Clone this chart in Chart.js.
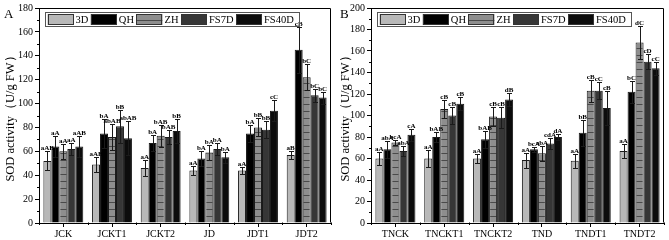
<!DOCTYPE html>
<html><head><meta charset="utf-8">
<script src="https://cdn.jsdelivr.net/npm/chart.js@4/dist/chart.umd.min.js"></script>
<style>
html,body{margin:0;padding:0;background:#fff;width:669px;height:240px;overflow:hidden}
canvas{position:absolute;top:0}
#cA{left:0}
#cB{left:335px}
</style></head>
<body>
<canvas id="cA" width="335" height="240"></canvas>
<canvas id="cB" width="334" height="240"></canvas>
<script>
// ---------- data ----------
const seriesNames = ['3D', 'QH', 'ZH', 'FS7D', 'FS40D'];

const categoriesA = ['JCK', 'JCKT1', 'JCKT2', 'JD', 'JDT1', 'JDT2'];
const a3D    = [52, 49, 46, 44, 44, 57];
const aQH    = [64, 75, 67, 54, 75, 145];
const aZH    = [60, 72, 73, 59, 80, 122];
const aFS7D  = [62, 81, 72, 62, 78, 107];
const aFS40D = [64, 71, 77, 55, 94, 105];
const a3DErr    = [8, 6, 7, 3.5, 3, 3];
const aQHErr    = [9, 12, 7, 6, 7, 19];
const aZHErr    = [6, 11, 9, 6.5, 7.5, 11];
const aFS7DErr  = [5, 14, 6, 5, 7, 5.5];
const aFS40DErr = [9, 14, 10, 4.5, 9, 5];
const a3DSig    = ['aAB', 'aAB', 'aA', 'aA', 'aA', 'aB'];
const aQHSig    = ['aA', 'bA', 'bA', 'bA', 'bA', 'cB'];
const aZHSig    = ['aA', 'abAB', 'bAB', 'bA', 'bB', 'bC'];
const aFS7DSig  = ['aA', 'bB', 'bAB', 'bA', 'bB', 'bC'];
const aFS40DSig = ['aAB', 'abAB', 'bB', 'bA', 'cC', 'bC'];

const categoriesB = ['TNCK', 'TNCKT1', 'TNCKT2', 'TND', 'TNDT1', 'TNDT2'];
const b3D    = [60, 60, 60, 58.5, 58, 67];
const bQH    = [68.5, 80, 78, 68.5, 84, 122];
const bZH    = [75, 106, 99, 65, 123, 168];
const bFS7D  = [67, 100, 98, 74, 123, 150];
const bFS40D = [82, 111, 115, 80, 107, 144];
const b3DErr    = [6, 8, 4, 7, 6.5, 6.5];
const bQHErr    = [8, 5, 8, 2.5, 12, 10];
const bZHErr    = [2.5, 8, 9, 7, 10, 15.5];
const bFS7DErr  = [5, 8, 10, 5, 8, 7];
const bFS40DErr = [5.5, 6, 6, 3, 16, 6];
const b3DSig    = ['aA', 'aA', 'aA', 'aA', 'aA', 'aA'];
const bQHSig    = ['abA', 'bAB', 'bAB', 'bcA', 'bB', 'bC'];
const bZHSig    = ['bcA', 'cB', 'cB', 'abA', 'cB', 'dC'];
const bFS7DSig  = ['abA', 'cB', 'cB', 'cdA', 'cC', 'cD'];
const bFS40DSig = ['cA', 'cB', 'dB', 'dA', 'cB', 'cC'];

const yMaxA = 180, yMaxB = 200, yStep = 20;
const yTitle = 'SOD activity（U/g FW）';

// ---------- styles ----------
const SERIF = '"Liberation Serif", "Times New Roman", serif';
function makeHatch() {
  const c = document.createElement('canvas');
  c.width = 8; c.height = 7;
  const g = c.getContext('2d');
  g.fillStyle = '#8e8e8e'; g.fillRect(0, 0, 8, 7);
  g.fillStyle = '#4a4a4a'; g.fillRect(0, 6, 8, 1);
  return g.createPattern(c, 'repeat');
}
const hatch = makeHatch();
const fills = ['#b8b8b8', '#000000', hatch, '#363636', '#0c0c0c'];

function extrasPlugin(letter, errs, sigs, letterX) {
  return {
    id: 'extras' + letter,
    afterDatasetsDraw(chart) {
      const ctx = chart.ctx, ca = chart.chartArea, ys = chart.scales.y;
      ctx.save();
      // error bars and significance letters
      chart.data.datasets.forEach((ds, di) => {
        const meta = chart.getDatasetMeta(di);
        meta.data.forEach((bar, i) => {
          const v = ds.data[i], e = errs[di][i];
          const xp = Math.round(bar.x) + 0.5;
          const yt = Math.round(ys.getPixelForValue(v + e)) + 0.5;
          const yb = Math.round(ys.getPixelForValue(v - e)) + 0.5;
          ctx.strokeStyle = '#1a1a1a'; ctx.lineWidth = 1;
          ctx.beginPath();
          ctx.moveTo(xp, yt); ctx.lineTo(xp, yb);
          ctx.moveTo(xp - 2.5, yt); ctx.lineTo(xp + 2.5, yt);
          ctx.moveTo(xp - 2.5, yb); ctx.lineTo(xp + 2.5, yb);
          ctx.stroke();
          ctx.fillStyle = '#000';
          ctx.font = 'bold 7px ' + SERIF;
          ctx.textAlign = 'center'; ctx.textBaseline = 'alphabetic';
          ctx.fillText(sigs[di][i], bar.x, yt - 1.5);
        });
      });
      // frame
      ctx.strokeStyle = '#000'; ctx.lineWidth = 1;
      const L = Math.round(ca.left) + 0.5, R = Math.round(ca.right) - 0.5;
      const T = Math.round(ca.top) + 0.5, B = Math.round(ca.bottom) - 0.5;
      ctx.beginPath();
      ctx.moveTo(L, T); ctx.lineTo(R, T); ctx.lineTo(R, B);
      ctx.stroke();
      // minor y ticks
      ctx.beginPath();
      for (let v = yStep / 2; v < ys.max; v += yStep) {
        const py = Math.round(ys.getPixelForValue(v)) + 0.5;
        ctx.moveTo(L - 2.5, py); ctx.lineTo(L, py);
      }
      // category boundary ticks
      const n = chart.data.labels.length;
      for (let i = 0; i <= n; i++) {
        const px = Math.round(ca.left + i * (ca.right - ca.left) / n) + 0.5;
        ctx.moveTo(px, B); ctx.lineTo(px, B + 2.5);
      }
      ctx.stroke();
      // legend
      const bx = L + 6, by = T + 4;
      ctx.font = '10.5px ' + SERIF;
      ctx.textAlign = 'left'; ctx.textBaseline = 'middle';
      let x = bx + 2;
      const sy = by + 1.5, sh = 11;
      chart.data.datasets.forEach((ds) => {
        ctx.fillStyle = ds.backgroundColor;
        ctx.fillRect(x, sy, 26, sh);
        ctx.strokeStyle = '#333';
        ctx.strokeRect(Math.round(x) + 0.5, Math.round(sy) + 0.5, 25, sh - 1);
        x += 28;
        ctx.fillStyle = '#000';
        ctx.fillText(ds.label, x, sy + sh / 2 + 0.5);
        x += ctx.measureText(ds.label).width + 2.5;
      });
      ctx.strokeStyle = '#555';
      ctx.strokeRect(bx, by, Math.round(x + 3 - bx), 14);
      // panel letter
      ctx.fillStyle = '#000';
      ctx.font = '13px ' + SERIF;
      ctx.textAlign = 'left'; ctx.textBaseline = 'alphabetic';
      ctx.fillText(letter, letterX, 18);
      ctx.restore();
    }
  };
}

function build(id, cats, vals, errs, sigs, yMax, letter, yWidth, padRight, letterX) {
  new Chart(document.getElementById(id), {
    type: 'bar',
    data: {
      labels: cats,
      datasets: seriesNames.map((n, i) => ({
        label: n, data: vals[i], backgroundColor: fills[i],
        borderColor: '#1a1a1a', borderWidth: 1,
        categoryPercentage: 0.82, barPercentage: 1
      }))
    },
    options: {
      responsive: false, animation: false, devicePixelRatio: 1,
      layout: { padding: { left: 0, right: padRight, top: 7, bottom: 0 } },
      plugins: { legend: { display: false }, tooltip: { enabled: false } },
      scales: {
        x: {
          grid: { display: true, drawOnChartArea: false, offset: false, tickLength: 4, color: '#000' },
          border: { color: '#000', width: 1 },
          ticks: { font: { family: SERIF, size: 10 }, color: '#000', padding: 1, maxRotation: 0, autoSkip: false },
          afterFit(s) { s.height = 17; }
        },
        y: {
          min: 0, max: yMax,
          ticks: { stepSize: yStep, font: { family: SERIF, size: 10 }, color: '#000', padding: 2 },
          grid: { drawOnChartArea: false, tickLength: 4, color: '#000' },
          border: { color: '#000', width: 1 },
          title: { display: true, text: yTitle, font: { family: SERIF, size: 12.5 }, color: '#000', padding: { top: 3, bottom: 0 } },
          afterFit(s) { s.width = yWidth; }
        }
      }
    },
    plugins: [extrasPlugin(letter, errs, sigs, letterX)]
  });
}

build('cA', categoriesA,
  [a3D, aQH, aZH, aFS7D, aFS40D],
  [a3DErr, aQHErr, aZHErr, aFS7DErr, aFS40DErr],
  [a3DSig, aQHSig, aZHSig, aFS7DSig, aFS40DSig],
  yMaxA, 'A', 39, 4, 4);
build('cB', categoriesB,
  [b3D, bQH, bZH, bFS7D, bFS40D],
  [b3DErr, bQHErr, bZHErr, bFS7DErr, bFS40DErr],
  [b3DSig, bQHSig, bZHSig, bFS7DSig, bFS40DSig],
  yMaxB, 'B', 36, 5, 5);
</script>
</body></html>
